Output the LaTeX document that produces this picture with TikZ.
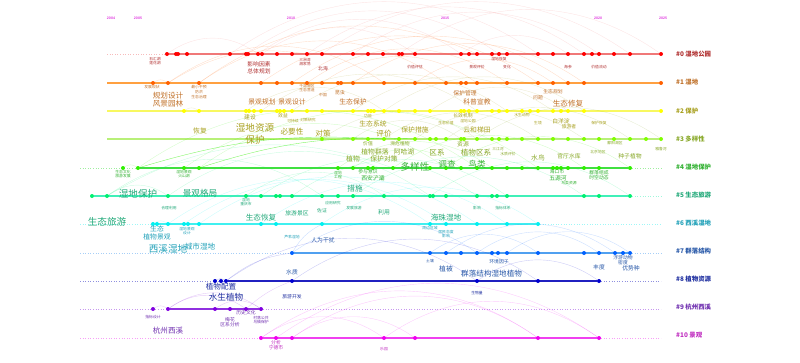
\documentclass[tikz,border=0pt]{standalone}
\usepackage{fontspec}
\setmainfont{Liberation Sans}
\newfontfamily\cjk{Noto Sans CJK SC}
\usetikzlibrary{positioning,backgrounds}
% lane colours: d = dots, l = line, t = text
\definecolor{d0}{HTML}{FF0000}\definecolor{l0}{HTML}{F07878}\definecolor{t0}{HTML}{B03030}
\definecolor{d1}{HTML}{FF6000}\definecolor{l1}{HTML}{FFA040}\definecolor{t1}{HTML}{C07028}
\definecolor{d2}{HTML}{FFFF00}\definecolor{l2}{HTML}{F8F860}\definecolor{t2}{HTML}{A8A020}
\definecolor{d3}{HTML}{80FF00}\definecolor{l3}{HTML}{B8F078}\definecolor{t3}{HTML}{88A828}
\definecolor{d4}{HTML}{30F000}\definecolor{l4}{HTML}{40E040}\definecolor{t4}{HTML}{30B030}
\definecolor{d5}{HTML}{00F070}\definecolor{l5}{HTML}{40F0B8}\definecolor{t5}{HTML}{20A878}
\definecolor{d6}{HTML}{00F0F0}\definecolor{l6}{HTML}{40F0F0}\definecolor{t6}{HTML}{20A0B8}
\definecolor{d7}{HTML}{0060FF}\definecolor{l7}{HTML}{50A0F0}\definecolor{t7}{HTML}{2858A8}
\definecolor{d8}{HTML}{0000D0}\definecolor{l8}{HTML}{2020C0}\definecolor{t8}{HTML}{2030A0}
\definecolor{d9}{HTML}{8000E0}\definecolor{l9}{HTML}{9030E0}\definecolor{t9}{HTML}{7030B0}
\definecolor{d10}{HTML}{F000F0}\definecolor{l10}{HTML}{F040F0}\definecolor{t10}{HTML}{C030C0}
\definecolor{yr}{HTML}{E040E0}
\begin{document}
\begin{tikzpicture}[x=1pt, y=-1pt,
    dot/.style = {circle, fill=#1, inner sep=0pt, minimum size=4pt},
    lane/.style = {draw=#1, line width=1.6pt},
    fade/.style = {draw=#1, line width=0.6pt, dotted, opacity=0.5},
    link/.style = {draw=#1, line width=0.4pt, opacity=0.2},
    kw/.style = {text=#1, inner sep=0pt, align=center},
    f4/.style = {font=\cjk\fontsize{3.8}{4.6}\selectfont},
    f5/.style = {font=\cjk\fontsize{4.8}{5.6}\selectfont},
    f6/.style = {font=\cjk\fontsize{5.8}{7.5}\selectfont},
    f7/.style = {font=\cjk\fontsize{6.8}{7.6}\selectfont},
    f8/.style = {font=\cjk\fontsize{7.6}{8.2}\selectfont},
    f9/.style = {font=\cjk\fontsize{8.6}{9.4}\selectfont},
    f10/.style = {font=\cjk\fontsize{9.6}{12}\selectfont},
    legend/.style = {text=#1, anchor=west, inner sep=0pt, font=\cjk\bfseries\fontsize{6.4}{7}\selectfont},
    year/.style = {text=yr, inner sep=0pt, font=\bfseries\fontsize{3.6}{4}\selectfont}]
\useasboundingbox (0,0) rectangle (800,362);

% time axis
\node[year] (y2004) at (111,18) {2004};
\node[year] (y2005) at (138,18) {2005};
\node[year] (y2010) at (291,18) {2010};
\node[year] (y2015) at (445,18) {2015};
\node[year] (y2020) at (598,18) {2020};
\node[year] (y2025) at (663,18) {2025};

% keyword nodes, one row per cluster
\foreach \x [count=\i] in {167,176,178,187,230,246,248,258,262,277,292,307,322,353,368,383,399,402,415,461,469,477,492,499,507,538,553,568,584,592,599,614,630,661}
    \node[dot=d0] (n0-\i) at (\x,54) {};
\foreach \x [count=\i] in {153,168,199,261,277,292,307,322,338,341,353,384,415,446,461,466,477,507,538,553,568,584,661}
    \node[dot=d1] (n1-\i) at (\x,83) {};
\foreach \x [count=\i] in {184,199,246,249,254,261,277,280,284,292,307,322,353,368,371,374,384,399,415,430,461,464,469,477,492,499,507,522,530,538,553,561,568,584,661}
    \node[dot=d2] (n2-\i) at (\x,111) {};
\foreach \x [count=\i] in {322,353,368,384,399,415,430,436,446,461,464,477,492,499,507,522,538,553,568,584,599,614,630,646,661}
    \node[dot=d3] (n3-\i) at (\x,139) {};
\foreach \x [count=\i] in {123,138,184,199,338,353,368,373,393,430,446,461,477,492,507,522,538,553,557,561,568,584,599,630}
    \node[dot=d4] (n4-\i) at (\x,168) {};
\foreach \x [count=\i] in {92,107,168,246,261,276,280,292,322,338,353,384,430,433,446,477,492,497,507,584,599,630}
    \node[dot=d5] (n5-\i) at (\x,196) {};
\foreach \x [count=\i] in {153,157,168,184,188,199,261,276,322,430,446,477,507,538}
    \node[dot=d6] (n6-\i) at (\x,224) {};
\foreach \x [count=\i] in {292,430,446,461,477,492,498,507,538,584,599,615,623,630}
    \node[dot=d7] (n7-\i) at (\x,253) {};
\foreach \x [count=\i] in {215,221,226,292,477,538,599}
    \node[dot=d8] (n8-\i) at (\x,281) {};
\foreach \x [count=\i] in {153,168,215,230,246,261}
    \node[dot=d9] (n9-\i) at (\x,309) {};
\foreach \x [count=\i] in {261,276,292,384,415,538,599}
    \node[dot=d10] (n10-\i) at (\x,338) {};

% line ends
\foreach \k/\y in {0/54,1/83,2/111,3/139,4/168,5/196,6/224,7/253,8/281,9/309,10/338} {
    \coordinate (s\k) at (80,\y);
    \coordinate (e\k) at (661,\y);
}
\coordinate (s1) at (107,83);
\coordinate (s2) at (107,111);
\coordinate (s3) at (107,139);
\coordinate (s0) at (107,54);

\begin{scope}[on background layer]
% timelines
\draw[fade=l0] (s0) -- (n0-1);
\draw[lane=l0] (n0-1) -- (n0-34);
\draw[lane=l1] (s1) -- (n1-23);
\draw[lane=l2, line width=1.2pt] (s2) -- (n2-35);
\draw[lane=l3, line width=1.2pt] (s3) -- (n3-1);
\draw[lane=l3, line width=2.4pt] (n3-1) -- (n3-25);
\draw[fade=l4] (s4) -- (n4-2);
\draw[lane=l4] (n4-2) -- (n4-24);
\draw[fade=l4] (n4-24) -- (e4);
\draw[lane=l5] (n5-1) -- (n5-22);
\draw[fade=l5] (n5-22) -- (e5);
\draw[fade=l6] (s6) -- (n6-1);
\draw[lane=l6] (n6-1) -- (n6-14);
\draw[fade=l6] (n6-14) -- (e6);
\draw[fade=l7] (s7) -- (n7-1);
\draw[lane=l7] (n7-1) -- (n7-14);
\draw[fade=l7] (n7-14) -- (e7);
\draw[fade=l8] (s8) -- (n8-3);
\draw[lane=l8] (n8-3) -- (n8-7);
\draw[fade=l8] (n8-7) -- (e8);
\draw[fade=l9] (s9) -- (n9-2);
\draw[lane=l9] (n9-2) -- (n9-6);
\draw[fade=l9] (n9-6) -- (e9);
\draw[fade=l10] (s10) -- (n10-1);
\draw[lane=l10] (n10-1) -- (n10-7);
\draw[fade=l10] (n10-7) -- (e10);

% co-occurrence arcs
\foreach \a/\b in {5/26,8/20,12/29,14/31,17/34,1/8,20/28,9/19,6/24,13/33}
    \draw[link=l0] (n0-\a) to[bend left=35] (n0-\b);
\foreach \a/\b in {2/12,4/19,6/21,8/17,11/22,3/14,13/20,1/2,7/18}
    \draw[link=d1] (n1-\a) to[bend left=35] (n1-\b);
\draw[link=d1] (n1-2) to[bend left=20] (n0-12);
\draw[link=d1] (n1-3) to[bend left=30] (n0-22);
\foreach \a/\b in {3/17,6/24,10/27,13/31,17/34,20/33,1/2}
    \draw[link=t2] (n2-\a) to[bend left=35] (n2-\b);
\foreach \a/\b in {1/12,4/17,6/20,9/23,12/25,2/10}
    \draw[link=t3] (n3-\a) to[bend left=35] (n3-\b);
\foreach \a/\b in {2/13,4/17,3/11,5/14,9/22,11/24,1/2,6/12}
    \draw[link=d4] (n4-\a) to[bend left=35] (n4-\b);
\draw[link=d4, opacity=0.6] (n4-2) to[bend left=10] (n3-4);
\draw[link=d4, opacity=0.6] (n4-4) to[bend left=10] (n3-6);
\foreach \a/\b in {2/9,3/13,5/16,8/19,11/20,13/22,2/3,4/12}
    \draw[link=d5] (n5-\a) to[bend left=35] (n5-\b);
\draw[link=d5] (n5-2) to[bend left=25] (n4-9);
\foreach \a/\b in {3/10,6/12,7/13,9/14,1/3,4/11}
    \draw[link=d6] (n6-\a) to[bend left=35] (n6-\b);
\foreach \a/\b in {1/5,2/9,5/11,8/14,3/12}
    \draw[link=d7] (n7-\a) to[bend left=35] (n7-\b);
\draw[link=d7] (n7-1) to[bend left=15] (n6-9);
\foreach \a/\b in {3/5,4/6,5/7,1/3}
    \draw[link=d8] (n8-\a) to[bend left=35] (n8-\b);
\draw[link=d8] (n8-3) to[bend left=15] (n7-1);
\foreach \a/\b in {2/5,2/6,3/6,1/2}
    \draw[link=d9] (n9-\a) to[bend left=35] (n9-\b);
\draw[link=d9] (n9-5) to[bend left=10] (n8-4);
\foreach \a/\b in {1/6,2/7,3/5,1/4,4/7,3/6}
    \draw[link=d10] (n10-\a) to[bend left=35] (n10-\b);
\end{scope}

% keyword labels
\node[kw=t0, f4] (k0a) at (155,61) {石汇湖\\莲花湖};
\node[kw=t0, f6] (k0b) at (259,68) {影响因素\\总体规划};
\node[kw=t0, f4] (k0c) at (305,62) {三洲湾\\湘家荡};
\node[kw=t0, f5] (k0d) at (323,69) {北海};
\node[kw=t0, f4] (k0e) at (415,67) {价值评估};
\node[kw=t0, f4] (k0f) at (499,59) {湿地恢复};
\node[kw=t0, f4] (k0g) at (477,67) {景观评价};
\node[kw=t0, f4] (k0h) at (507,67) {变化};
\node[kw=t0, f4] (k0i) at (568,67) {海参};
\node[kw=t0, f4] (k0j) at (599,67) {价值流动};

\node[kw=t1, f4] (k1a) at (152,87) {发展现状};
\node[kw=t1, f4] (k1b) at (199,92) {最小干预\\防洪\\生态治理};
\node[kw=t1, f8] (k1c) at (168,100) {规划设计\\风景园林};
\node[kw=t1, f4] (k1d) at (307,88) {千岛湖区\\生态营造};
\node[kw=t1, f4] (k1e) at (323,95) {中国};
\node[kw=t1, f5] (k1f) at (340,93) {昆虫};
\node[kw=t1, f7] (k1g) at (262,102) {景观规划};
\node[kw=t1, f7] (k1h) at (292,102) {景观设计};
\node[kw=t1, f7] (k1i) at (353,102) {生态保护};
\node[kw=t1, f6] (k1j) at (465,93) {保护管理};
\node[kw=t1, f7] (k1k) at (477,102) {科普宣教};
\node[kw=t1, f5] (k1l) at (553,92) {生态规划};
\node[kw=t1, f5] (k1m) at (538,98) {问题};
\node[kw=t1, f8] (k1n) at (568,104) {生态修复};

\node[kw=t2, f6] (k2a) at (250,117) {建设};
\node[kw=t2, f5] (k2b) at (283,116) {效益};
\node[kw=t2, f4] (k2c) at (293,121) {可持续};
\node[kw=t2, f4] (k2d) at (308,120) {对策研究};
\node[kw=t2, f7] (k2e) at (200,131) {恢复};
\node[kw=t2, f10] (k2f) at (255,134) {湿地资源\\保护};
\node[kw=t2, f8] (k2g) at (292,132) {必要性};
\node[kw=t2, f8] (k2h) at (323,134) {对策};
\node[kw=t2, f7] (k2i) at (373,124) {生态系统};
\node[kw=t2, f8] (k2j) at (384,134) {评价};
\node[kw=t2, f7] (k2k) at (415,130) {保护措施};
\node[kw=t2, f4] (k2l) at (368,116) {功能};
\node[kw=t2, f4] (k2m) at (446,123) {生态价值};
\node[kw=t2, f5] (k2n) at (463,116) {长效机制};
\node[kw=t2, f4] (k2o) at (468,121) {湿地公园};
\node[kw=t2, f7] (k2p) at (477,130) {云和梯田};
\node[kw=t2, f4] (k2q) at (522,115) {水生动物};
\node[kw=t2, f4] (k2r) at (538,123) {生境};
\node[kw=t2, f6] (k2s) at (561,121) {白洋淀};
\node[kw=t2, f5] (k2t) at (569,127) {旅游者};
\node[kw=t2, f4] (k2u) at (599,123) {保护恢复};

\node[kw=t3, f5] (k3a) at (368,144) {价值};
\node[kw=t3, f5] (k3b) at (400,144) {濒危植物};
\node[kw=t3, f6] (k3c) at (463,144) {资源};
\node[kw=t3, f7] (k3d) at (375,152) {植物群落};
\node[kw=t3, f7] (k3e) at (404,152) {阿哈湖};
\node[kw=t3, f7] (k3f) at (353,159) {植物};
\node[kw=t3, f7] (k3g) at (384,159) {保护对策};
\node[kw=t3, f8] (k3h) at (437,153) {区系};
\node[kw=t3, f8] (k3i) at (476,153) {植物区系};
\node[kw=t3, f4] (k3j) at (498,149) {三江河};
\node[kw=t3, f4] (k3k) at (508,154) {水质评价};
\node[kw=t3, f7] (k3l) at (538,158) {水鸟};
\node[kw=t3, f6] (k3m) at (569,156) {官厅水库};
\node[kw=t3, f4] (k3n) at (598,152) {北京地区};
\node[kw=t3, f6] (k3o) at (630,156) {种子植物};
\node[kw=t3, f4] (k3p) at (661,149) {雅鲁河};
\node[kw=t3, f4] (k3q) at (615,143) {鄱阳湖区};

\node[kw=t4, f4] (k4a) at (123,174) {生态文化\\旅游发展};
\node[kw=t4, f4] (k4b) at (184,174) {湿地景观\\火山湖};
\node[kw=t4, f4] (k4c) at (338,175) {湿地\\工程};
\node[kw=t4, f5] (k4d) at (368,172) {参与意识};
\node[kw=t4, f6] (k4e) at (373,178) {西安浐灞};
\node[kw=t4, f10] (k4f) at (415,167) {多样性};
\node[kw=t4, f9] (k4g) at (447,164) {调查};
\node[kw=t4, f9] (k4h) at (477,164) {鸟类};
\node[kw=t4, f5] (k4i) at (557,172) {海口市};
\node[kw=t4, f6] (k4j) at (558,178) {五源河};
\node[kw=t4, f4] (k4k) at (569,183) {鸟类资源};
\node[kw=t4, f5] (k4l) at (599,175) {群落组成\\时空动态};

\node[kw=t5, f10] (k5a) at (138,194) {湿地保护};
\node[kw=t5, f9] (k5b) at (200,193) {景观格局};
\node[kw=t5, f10] (k5c) at (107,222) {生态旅游};
\node[kw=t5, f8] (k5d) at (355,189) {措施};
\node[kw=t5, f4] (k5e) at (169,208) {合理利用};
\node[kw=t5, f4] (k5f) at (246,202) {湿地\\重庆市};
\node[kw=t5, f4] (k5g) at (333,203) {应用研究};
\node[kw=t5, f5] (k5h) at (322,211) {佐证};
\node[kw=t5, f4] (k5i) at (354,208) {发展旅游};
\node[kw=t5, f6] (k5j) at (384,212) {利用};
\node[kw=t5, f4] (k5k) at (477,208) {影响};
\node[kw=t5, f4] (k5l) at (503,208) {指标体系};
\node[kw=t5, f6] (k5m) at (297,213) {旅游景区};
\node[kw=t5, f8] (k5n) at (261,218) {生态恢复};
\node[kw=t5, f8] (k5o) at (446,218) {海珠湿地};

\node[kw=t6, f7] (k6a) at (157,233) {生态\\植物景观};
\node[kw=t6, f4] (k6b) at (187,231) {湿地景观\\设计};
\node[kw=t6, f10] (k6c) at (168,249) {西溪湿地};
\node[kw=t6, f8] (k6d) at (200,247) {城市湿地};
\node[kw=t6, f4] (k6e) at (292,237) {芦苇湿地};
\node[kw=t7, f6] (k6f) at (323,240) {人为干扰};
\node[kw=t6, f4] (k6g) at (430,228) {周边区域};
\node[kw=t6, f4] (k6h) at (446,234) {居民态度\\影响};

\node[kw=t7, f6] (k7a) at (292,272) {水质};
\node[kw=t7, f4] (k7b) at (430,261) {土壤};
\node[kw=t7, f7] (k7c) at (446,269) {植被};
\node[kw=t7, f5] (k7d) at (499,262) {环境因子};
\node[kw=t7, f6] (k7e) at (599,267) {丰度};
\node[kw=t7, f5] (k7f) at (623,260) {浮游动物\\密度};
\node[kw=t7, f6] (k7g) at (631,268) {优势种};
\node[kw=t7, f8, anchor=west] (k7h) at (461,274) {群落结构湿地植物};

\node[kw=t8, f8] (k8a) at (221,287) {植物配置};
\node[kw=t8, f9] (k8b) at (226,297) {水生植物};
\node[kw=t8, f5] (k8c) at (292,297) {旅游开发};
\node[kw=t8, f4] (k8d) at (477,293) {生物量};

\node[kw=t9, f4] (k9a) at (153,317) {指标设计};
\node[kw=t9, f5] (k9b) at (246,313) {历史文化};
\node[kw=t9, f5] (k9c) at (230,322) {梅花\\区系分析};
\node[kw=t9, f4] (k9d) at (261,320) {村落公共\\乌镇保护};
\node[kw=t9, f8] (k9e) at (168,331) {杭州西溪};

\node[kw=t10, f5] (k10a) at (276,345) {分析\\宁德市};
\node[kw=t10, f4] (k10b) at (384,349) {乐园};

% cluster names
\node[legend=t0] (c0) at (676,54) {\#0 湿地公园};
\node[legend=t1!80!brown] (c1) at (676,82) {\#1 湿地};
\node[legend=t2] (c2) at (676,111) {\#2 保护};
\node[legend=t3] (c3) at (676,139) {\#3 多样性};
\node[legend=t4] (c4) at (676,167) {\#4 湿地保护};
\node[legend=t5] (c5) at (676,195) {\#5 生态旅游};
\node[legend=t6] (c6) at (676,223) {\#6 西溪湿地};
\node[legend=t7] (c7) at (676,251) {\#7 群落结构};
\node[legend=t8] (c8) at (676,279) {\#8 植物资源};
\node[legend=t9] (c9) at (676,307) {\#9 杭州西溪};
\node[legend=t10] (c10) at (676,335) {\#10 景观};
\end{tikzpicture}
\end{document}
